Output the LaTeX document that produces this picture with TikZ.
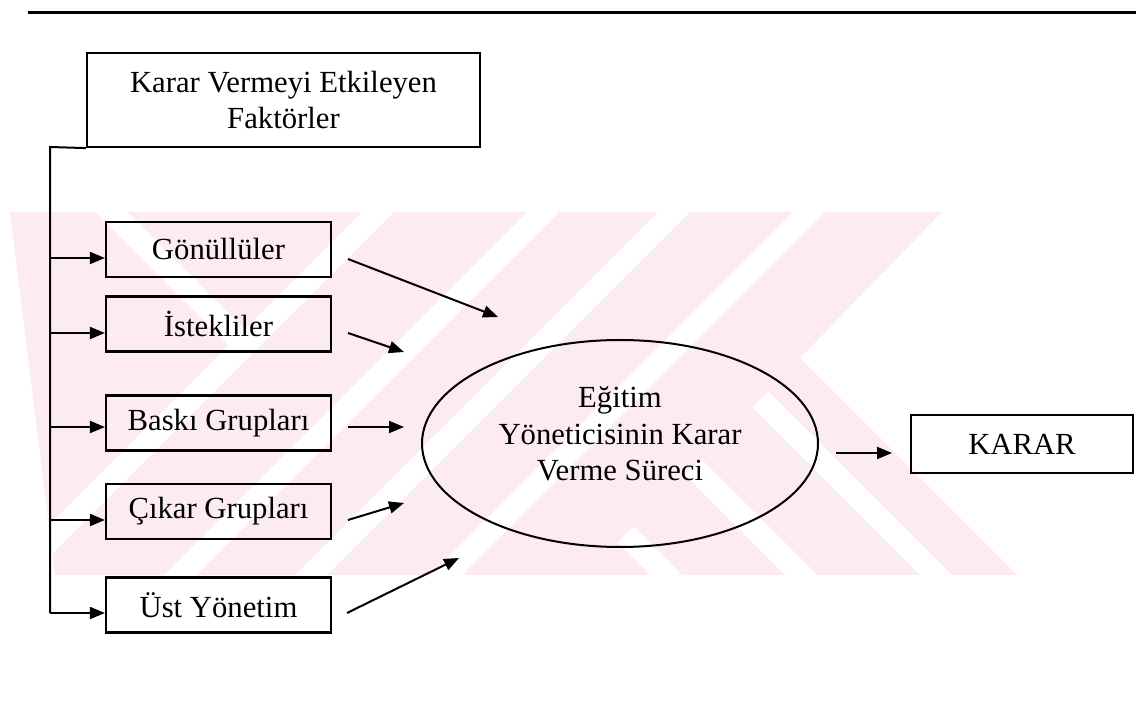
\documentclass[tikz,border=0pt]{standalone}
\usepackage{fontspec}
\setmainfont{Liberation Serif}
\usetikzlibrary{arrows.meta,shapes.geometric}
\definecolor{wm}{RGB}{252,235,239}
\newcommand\diagfont{\fontsize{30.7}{36.5}\selectfont}
\begin{document}
\begin{tikzpicture}[x=1pt,y=-1pt,
  fbox/.style={draw, line width=2.2pt, minimum width=225pt, minimum height=55pt, inner sep=0pt, font=\diagfont},
  arr/.style={line width=2pt, -{Triangle[length=15pt,width=12pt]}},
  ln/.style={line width=2pt}
]
\useasboundingbox (0,0) rectangle (1136,708);
% watermark
\begin{scope}
  \clip (10,212) -- (942,212) -- (800,358) -- (1017,575) -- (55,575) -- cycle;
  \fill[wm] (0,200) rectangle (1136,590);
  \foreach \a in {574,739,870,1005} {
    \fill[white] (\a-200,200) -- (\a+32-200,200) -- (\a+32-590,590) -- (\a-590,590) -- cycle;
  }
  \fill[white] (95,212) -- (127,212) -- (244.5,329.5) -- (228.5,345.5) -- cycle;
  \begin{scope}
    \clip (960,200) -- (1200,200) -- (1200,590) -- (570,590) -- cycle;
    \foreach \b in {345,210,75,-60} {
      \fill[white] (\b+200,200) -- (\b+32+200,200) -- (\b+32+590,590) -- (\b+590,590) -- cycle;
    }
  \end{scope}
\end{scope}
% top rule
\coordinate (r1) at (28,12.7);
\coordinate (r2) at (1136,12.7);
\draw[line width=2.4pt] (r1) -- (r2);
% nodes
\node[draw, line width=2.2pt, minimum width=393pt, minimum height=94pt, inner sep=0pt, align=center, font=\diagfont] (K) at (283.5,100) {Karar Vermeyi Etkileyen\\Faktörler};
\node[fbox] (gon) at (218.5,249.5) {Gönüllüler};
\node[fbox] (ist) at (218.5,324) {İstekliler};
\node[fbox] (bas) at (218.5,423) {Baskı Grupları};
\node[fbox] (cik) at (218.5,511.5) {Çıkar Grupları};
\node[fbox] (ust) at (218.5,605) {Üst Yönetim};
\node[draw, ellipse, line width=2pt, minimum width=396pt, minimum height=207pt, inner sep=0pt] (ell) at (620,443.5) {};
\node[align=center, font=\diagfont, inner sep=0pt] (et) at (620,434) {Eğitim\\Yöneticisinin Karar\\Verme Süreci};
\node[draw, line width=2.2pt, minimum width=222pt, minimum height=58pt, inner sep=0pt, font=\diagfont] (kr) at (1022,444) {KARAR};
% trunk
\coordinate (tt) at (50,147);
\coordinate (t1) at (50,258);
\coordinate (t2) at (50,333);
\coordinate (t3) at (50,427);
\coordinate (t4) at (50,520);
\coordinate (t5) at (50,613);
\draw[ln] (K.south west) -- (tt) -- (t5);
\draw[arr] (t1) -- (t1 -| gon.west);
\draw[arr] (t2) -- (t2 -| ist.west);
\draw[arr] (t3) -- (t3 -| bas.west);
\draw[arr] (t4) -- (t4 -| cik.west);
\draw[arr] (t5) -- (t5 -| ust.west);
% arrows into the process
\coordinate (g1) at (348,259);  \coordinate (g2) at (498,317);
\coordinate (i1) at (348,333);  \coordinate (i2) at (404,352);
\coordinate (b1) at (348,427);  \coordinate (b2) at (404,427);
\coordinate (c1) at (348,520);  \coordinate (c2) at (404,503);
\coordinate (u1) at (347,613);  \coordinate (u2) at (459,558);
\coordinate (k1) at (836,453);  \coordinate (k2) at (892,453);
\draw[arr] (g1) -- (g2);
\draw[arr] (i1) -- (i2);
\draw[arr] (b1) -- (b2);
\draw[arr] (c1) -- (c2);
\draw[arr] (u1) -- (u2);
\draw[arr] (k1) -- (k2);
\end{tikzpicture}
\end{document}
